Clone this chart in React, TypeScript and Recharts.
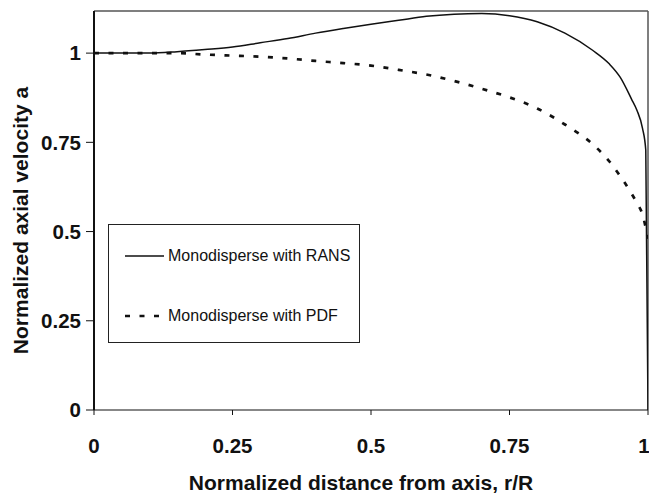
import React from "react";
import { Label, Legend, Line, LineChart, ReferenceLine, XAxis, YAxis } from "recharts";

// radial position r/R and normalized axial velocity
const rRans = [0, 0.05, 0.1, 0.15, 0.2, 0.25, 0.3, 0.35, 0.4, 0.45, 0.5, 0.55, 0.6, 0.65, 0.7, 0.75, 0.8, 0.85, 0.9, 0.93, 0.95, 0.97, 0.98, 0.99, 0.996, 1];
const aRans = [1, 1, 1, 1.004, 1.01, 1.017, 1.029, 1.041, 1.056, 1.069, 1.081, 1.092, 1.103, 1.109, 1.111, 1.105, 1.088, 1.056, 1.008, 0.97, 0.932, 0.872, 0.84, 0.79, 0.728, 0];

const rPdf = [0, 0.05, 0.1, 0.15, 0.2, 0.25, 0.3, 0.35, 0.4, 0.45, 0.5, 0.55, 0.6, 0.65, 0.7, 0.75, 0.8, 0.85, 0.9, 0.93, 0.95, 0.97, 0.98, 0.99, 1];
const aPdf = [1, 1, 1, 1, 0.996, 0.993, 0.99, 0.985, 0.978, 0.972, 0.965, 0.953, 0.94, 0.922, 0.9, 0.876, 0.845, 0.8, 0.745, 0.697, 0.655, 0.607, 0.58, 0.548, 0.48];

const xTicks = [0, 0.25, 0.5, 0.75, 1];
const yTicks = [0, 0.25, 0.5, 0.75, 1];
const yMax = 1.118;

const seriesNames = ["Monodisperse with RANS", "Monodisperse with PDF"];

const ransData = rRans.map((r, i) => ({ r, a: aRans[i] }));
const pdfData = rPdf.map((r, i) => ({ r, a: aPdf[i] }));

const font = "'Liberation Sans', Arial, Helvetica, sans-serif";
const tickStyle = { fontFamily: font, fontSize: 20.5, fontWeight: 700, fill: "#111" };
const dash = "5 9.5";

function LegendBox() {
  return (
    <div
      style={{
        boxSizing: "border-box",
        width: 252,
        height: 119,
        border: "1px solid #222",
        background: "#fff",
        fontFamily: font,
        fontSize: 16,
        color: "#111",
        position: "relative",
      }}
    >
      {seriesNames.map((name, i) => (
        <div
          key={name}
          style={{ position: "absolute", left: 15, top: 21 + i * 60, height: 20, display: "flex", alignItems: "center" }}
        >
          <svg width={40} height={6} style={{ marginRight: 4 }}>
            <line
              x1={1}
              x2={40}
              y1={3}
              y2={3}
              stroke="#111"
              strokeWidth={i === 0 ? 1.5 : 2.7}
              strokeDasharray={i === 0 ? undefined : dash}
            />
          </svg>
          <span>{name}</span>
        </div>
      ))}
    </div>
  );
}

export default function App() {
  return (
    <div style={{ position: "absolute", left: 0, top: 0, background: "#fff" }}>
      <LineChart width={649} height={494} margin={{ top: 11, right: 1, left: 0, bottom: 0 }}>
        <XAxis
          dataKey="r"
          type="number"
          domain={[0, 1]}
          ticks={xTicks}
          tickFormatter={(v: number) => String(v)}
          height={84}
          tickSize={5}
          tickMargin={23}
          tick={tickStyle}
          axisLine={{ stroke: "#111", strokeWidth: 1.2 }}
          tickLine={{ stroke: "#111" }}
          allowDataOverflow
        >
          <Label
            content={(props: any) => {
              const vb = props.viewBox;
              return (
                <text
                  x={vb.x + vb.width / 2 - 10}
                  y={vb.y + 80}
                  textAnchor="middle"
                  style={{ fontFamily: font, fontSize: 21, fontWeight: 700, fill: "#111" }}
                >
                  Normalized distance from axis, r/R
                </text>
              );
            }}
          />
        </XAxis>
        <YAxis
          type="number"
          domain={[0, yMax]}
          ticks={yTicks}
          tickFormatter={(v: number) => String(v)}
          width={94}
          tickSize={8}
          tickMargin={5}
          tick={tickStyle}
          axisLine={{ stroke: "#111", strokeWidth: 2 }}
          tickLine={{ stroke: "#111" }}
          allowDataOverflow
        >
          <Label
            content={(props: any) => {
              const vb = props.viewBox;
              const cx = vb.x + 20;
              const cy = vb.y + vb.height / 2 + 10;
              return (
                <text
                  x={cx}
                  y={cy}
                  transform={`rotate(-90, ${cx}, ${cy})`}
                  textAnchor="middle"
                  dominantBaseline="central"
                  style={{ fontFamily: font, fontSize: 21, fontWeight: 700, fill: "#111" }}
                >
                  Normalized axial velocity a
                </text>
              );
            }}
          />
        </YAxis>
        <ReferenceLine y={yMax} stroke="#555" strokeWidth={1.5} />
        <ReferenceLine x={1} stroke="#555" strokeWidth={1.5} />
        <Line
          data={pdfData}
          dataKey="a"
          name={seriesNames[1]}
          type="monotone"
          stroke="#111"
          strokeWidth={2.7}
          strokeDasharray={dash}
          dot={false}
          isAnimationActive={false}
        />
        <Line
          data={ransData}
          dataKey="a"
          name={seriesNames[0]}
          type="monotone"
          stroke="#111"
          strokeWidth={1.5}
          dot={false}
          isAnimationActive={false}
        />
        <Legend
          layout="horizontal"
          verticalAlign="middle"
          align="center"
          wrapperStyle={{ left: 108, top: 224, width: 252, height: 119 }}
          content={() => <LegendBox />}
        />
      </LineChart>
    </div>
  );
}
